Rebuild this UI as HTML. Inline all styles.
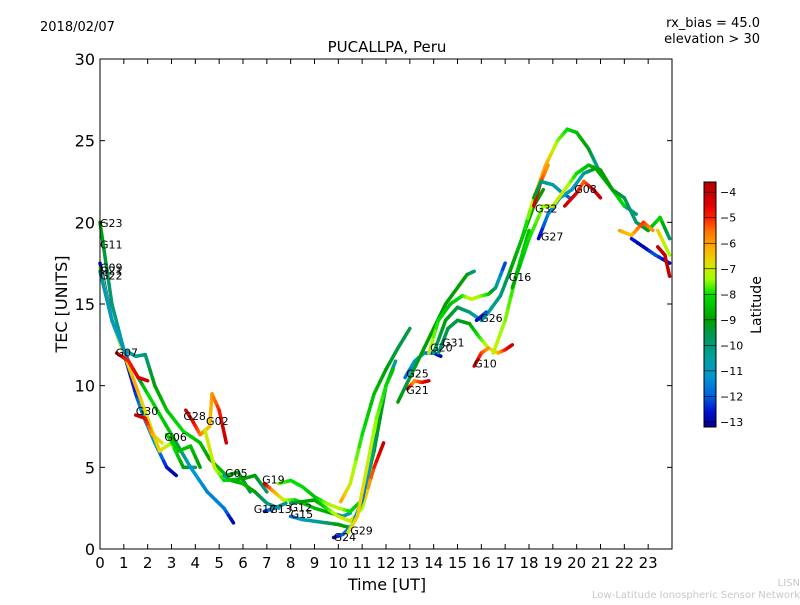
<!DOCTYPE html>
<html><head><meta charset="utf-8"><style>
body{margin:0;background:#fff;}
svg text{font-family:"DejaVu Sans","Liberation Sans",sans-serif;}
</style></head><body>
<svg id="chart" width="800" height="600" xmlns="http://www.w3.org/2000/svg">
<defs>
<linearGradient id="jet" x1="0" y1="1" x2="0" y2="0"></linearGradient>
</defs>
<text x="40" y="31" font-size="13">2018/02/07</text>
<text x="760" y="27" font-size="13" text-anchor="end">rx_bias = 45.0</text>
<text x="760" y="43" font-size="13" text-anchor="end">elevation &gt; 30</text>
<text x="387" y="52" font-size="15" text-anchor="middle">PUCALLPA, Peru</text>
<g id="plot"></g>
<g id="axes"></g>
<text x="387" y="590" font-size="16" text-anchor="middle">Time [UT]</text>
<text x="67" y="304" font-size="16" text-anchor="middle" transform="rotate(-90 67 304)">TEC [UNITS]</text>
<rect x="704" y="182" width="12" height="245" fill="url(#jet)" stroke="#000" stroke-width="1"/>
<g id="cbar"></g>
<text x="761" y="305" font-size="14" text-anchor="middle" transform="rotate(-90 761 305)">Latitude</text>
<text x="800" y="586" font-size="10" fill="#c8c8c8" text-anchor="end">LISN</text>
<text x="800" y="598" font-size="10" fill="#c8c8c8" text-anchor="end">Low-Latitude Ionospheric Sensor Network</text>
</svg>
<script>
const xTicks=[0,1,2,3,4,5,6,7,8,9,10,11,12,13,14,15,16,17,18,19,20,21,22,23];
const yTicks=[0,5,10,15,20,25,30];
const cTicks=[-4,-5,-6,-7,-8,-9,-10,-11,-12,-13];
const trackNames=["G23","G11","G09","G22","G07","G30","G28","G06","G05","G02b","G19","G19b","G12","G15","G24","G29","G13","G31a","G25","G21","G20","G31","G10a","G10b","G10","G26","G16","G32a","G32r","G32","G27","G08","G03","E1","E2","E3","E4"];
const tracks=[
[[0,20,-9],[0.5,15,-10],[1,12.2,-10.5],[1.5,11.8,-10.5],[1.9,11.9,-10],[2.3,10,-9],[2.8,8.5,-8.5],[3.5,7.2,-8],[4.2,6.5,-8.5],[4.6,5.5,-9],[5.3,4.5,-8.5],[5.8,4.7,-9],[6.3,3.5,-9.5]],
[[0,17.5,-12.5],[0.5,14,-12.8],[1,12,-12.5],[1.5,9.5,-12.5],[1.8,8.2,-11],[2.3,6.5,-11],[2.8,5,-12.5],[3.2,4.5,-13]],
[[0,17.2,-7],[0.5,14,-7.5],[1,12,-7],[1.5,10,-6],[2,8,-7],[2.5,6,-6.5],[3,6.5,-7.5],[3.5,5,-9],[4,5,-10]],
[[0,17,-10.5],[0.5,14,-11],[1.2,11.5,-11.5],[2,9.5,-8],[3,7,-8.5],[3.8,5,-11],[4.5,3.5,-11.5],[5.2,2.5,-11.5],[5.6,1.6,-13]],
[[0.7,12,-4],[1.2,11.5,-5],[1.6,10.5,-4.5],[2,10.3,-4]],
[[1.5,8.2,-4],[1.9,8,-4.5],[2.2,7,-6],[2.6,6.5,-7]],
[[3.6,8.5,-4],[3.9,7.8,-4.5],[4.2,7,-5.5],[4.6,7.5,-6.5],[4.7,9.5,-6],[5,8.5,-5],[5.3,6.5,-4]],
[[2.8,7,-8],[3.3,6,-8.5],[3.8,6.3,-8.5],[4.2,5,-9]],
[[5.2,4.5,-12],[5.5,4.2,-9],[6,4,-8.5],[6.5,3.5,-9],[7,2.8,-10],[7.5,2.5,-11]],
[[4.4,7.3,-7],[4.8,5,-7],[5.2,4.2,-8],[6,4.3,-9],[6.5,4.5,-9],[7,3.5,-10]],
[[6.9,4,-4],[7.3,3.5,-6],[7.7,3,-7],[8.2,3,-8],[9,2.5,-8.5],[9.7,2.2,-9],[10.2,2,-10],[10.5,2.2,-11]],
[[7.5,4,-7.5],[8,4.2,-8],[8.5,3.8,-8],[9,3.2,-8.5],[9.5,2.8,-7.5],[10,2.5,-7],[10.5,2.3,-8],[11,3,-8.5],[11.5,6,-9],[12,10,-9.5],[12.4,11.5,-10.5]],
[[8,2.8,-10],[8.5,2.9,-9],[9,3,-9],[9.5,2.5,-8],[10,2,-7],[10.5,1.7,-7],[11,2.5,-7.5],[11.5,5,-5],[11.9,6.5,-4]],
[[8,2,-12],[8.5,1.8,-11],[9,1.7,-10.5],[9.5,1.6,-10],[10,1.5,-9],[10.5,1.3,-9]],
[[9.8,0.7,-13],[10.2,0.9,-12],[10.6,1.5,-11],[11,3,-12],[11.3,5,-11],[11.6,7,-9.5]],
[[10.4,1,-7],[10.8,2,-6.5],[11.2,5,-7],[11.6,8,-7.5],[12,10,-8],[12.3,11,-8.5]],
[[6.9,2.3,-13],[7.3,2.5,-11],[7.8,2.8,-10]],
[[10.1,2.9,-6],[10.5,4,-7],[11,7,-8],[11.5,9.5,-8.5],[12,11,-9],[12.5,12.3,-9.5],[13,13.5,-9.5]],
[[12.8,10.5,-12],[13.2,11.5,-11],[13.6,12,-11],[14,12,-12.5],[14.3,11.8,-13]],
[[12.9,9.8,-4],[13.2,10.3,-6],[13.5,10.2,-5],[13.8,10.3,-4]],
[[12.5,9,-9],[13,10.5,-9.5],[13.5,12,-9],[14,13.5,-9],[14.5,15,-9],[15,16,-9],[15.4,16.8,-9],[15.7,17,-10]],
[[13.8,12,-7],[14.2,14,-8],[14.7,15,-8.5],[15.2,15.5,-8],[15.6,15.3,-7],[16,15.5,-7.5],[16.3,15.6,-8],[16.6,16,-10],[17,17.5,-12.5]],
[[14,12,-10],[14.5,14,-9],[15,14.8,-9.5],[15.5,14.5,-10],[16,14,-11],[16.3,14.5,-10.5],[16.8,15.5,-10],[17.2,17,-9.5],[17.7,19,-9],[18.2,21,-9],[18.6,22,-9]],
[[14.2,12,-10],[14.6,13.5,-9.5],[15,14,-9.5],[15.5,13.8,-9],[15.9,13,-8],[16.3,12.3,-7],[16.7,12,-6.5],[17,12.2,-5],[17.3,12.5,-4]],
[[15.7,11.2,-4],[16,12,-5],[16.3,12.3,-6]],
[[15.8,14,-13],[16.2,14.5,-12]],
[[16.5,12,-7],[17,14,-7.5],[17.5,17,-8],[18,19.5,-8.5]],
[[17.2,17,-9],[17.7,19,-8.5],[18.2,21.5,-7],[18.7,23.5,-6],[19.2,25,-7.5],[19.6,25.7,-8],[20,25.5,-8.5],[20.5,24.5,-9],[21,23,-11],[21.5,22,-11],[22,21,-10.5],[22.5,20.5,-10]],
[[18.2,21,-4],[18.5,22.5,-5],[18.8,23.5,-6]],
[[18.2,21.5,-9],[18.5,22.5,-10],[19,22.3,-10.5],[19.4,21.8,-11],[19.7,21.5,-12]],
[[18.4,19,-13],[18.8,20.5,-11.5],[19.3,21.5,-11],[19.8,22,-11],[20.3,23,-10.5],[20.8,23.3,-9],[21.5,22,-8.5],[22,21,-8]],
[[19.5,21,-4],[20,21.8,-4.5],[20.3,22.5,-5.5],[20.7,22,-4.5],[21,21.5,-4]],
[[17.3,16,-9],[18,19,-8],[18.6,21,-7.5],[19,21,-7],[19.5,22,-7],[20,23,-8],[20.5,23.5,-8.5],[21,23.2,-9],[21.5,22,-9],[22,21.5,-9.5],[22.5,20,-10],[23,19.5,-9],[23.5,20.3,-8],[23.9,19,-10]],
[[21.8,19.5,-6],[22.3,19.2,-6.5],[22.8,20,-5],[23.2,19.5,-6]],
[[22.3,19,-12.5],[22.8,18.5,-13],[23.3,18,-12],[23.9,17.5,-13]],
[[23.4,18.5,-4],[23.7,18,-4],[23.9,16.7,-4]],
[[23.4,19.5,-6.5],[23.9,18,-7.5]]
];
const labelNames=["G23","G11","G09","G21","G22","G07","G30","G28","G02","G06","G05","G19","G17","G13","G12","G15","G24","G29","G25","G21","G20","G31","G26","G10","G16","G32","G27","G08"];
const labelT=[0,0,0,0,0,0.65,1.5,3.5,4.45,2.7,5.25,6.8,6.45,7.1,7.95,8.0,9.8,10.5,12.85,12.85,13.85,14.35,15.95,15.7,17.15,18.25,18.5,19.9];
const labelTEC=[19.7,18.4,17.0,16.8,16.5,11.8,8.2,7.9,7.6,6.6,4.4,4.0,2.2,2.2,2.3,1.9,0.5,0.9,10.5,9.5,12.1,12.4,13.9,11.1,16.4,20.6,18.9,21.8];

const X0=100,X1=672,Y0=549,Y1=59;
const xs=t=>X0+t*(X1-X0)/24;
const ys=v=>Y0-v*(Y0-Y1)/30;
const CMIN=-13.2,CMAX=-3.6;
const cy=l=>427-(l-CMIN)/(CMAX-CMIN)*245;
const cmapLat=[-13.2,-12.6,-12.0,-11.2,-10.5,-9.7,-9.0,-8.0,-7.4,-6.8,-6.2,-5.5,-5.0,-4.5,-3.6];
const cmapRGB=[[0,0,144],[0,16,208],[0,96,224],[0,152,208],[0,160,160],[0,152,96],[0,160,0],[0,224,0],[160,255,0],[224,224,0],[255,176,0],[255,112,0],[255,32,0],[224,0,0],[176,0,0]];
function jet(l){
 if(l<=cmapLat[0])return `rgb(${cmapRGB[0].join(',')})`;
 for(let i=0;i<cmapLat.length-1;i++){if(l<=cmapLat[i+1]){const u=(l-cmapLat[i])/(cmapLat[i+1]-cmapLat[i]);
  const c=cmapRGB[i].map((v,k)=>Math.round(v+(cmapRGB[i+1][k]-v)*u));return `rgb(${c.join(',')})`;}}
 return `rgb(${cmapRGB[cmapRGB.length-1].join(',')})`;}
const NS="http://www.w3.org/2000/svg";
const grad=document.getElementById('jet');
cmapLat.forEach((l,i)=>{const s=document.createElementNS(NS,'stop');s.setAttribute('offset',(l-CMIN)/(CMAX-CMIN));s.setAttribute('stop-color',`rgb(${cmapRGB[i].join(',')})`);grad.appendChild(s);});
const plot=document.getElementById('plot');
tracks.forEach((tr,i)=>{
 const g=document.createElementNS(NS,'g');
 
 
 for(let k=0;k<tr.length-1;k++){
  const a=tr[k],b=tr[k+1];
  for(let s=0;s<4;s++){
   const u0=s/4,u1=(s+1)/4;
   const ln=document.createElementNS(NS,'line');
   ln.setAttribute('x1',xs(a[0]+(b[0]-a[0])*u0));ln.setAttribute('y1',ys(a[1]+(b[1]-a[1])*u0));
   ln.setAttribute('x2',xs(a[0]+(b[0]-a[0])*u1));ln.setAttribute('y2',ys(a[1]+(b[1]-a[1])*u1));
   ln.setAttribute('stroke',jet(a[2]+(b[2]-a[2])*(u0+u1)/2));
   ln.setAttribute('stroke-width','3.5');ln.setAttribute('stroke-linecap','round');
   g.appendChild(ln);
  }
 }
 plot.appendChild(g);
});
labelNames.forEach((n,i)=>{
 const t=document.createElementNS(NS,'text');
 
 
 t.setAttribute('x',xs(labelT[i]));t.setAttribute('y',ys(labelTEC[i]));
 t.setAttribute('font-size','11');t.textContent=n;plot.appendChild(t);
});
const axes=document.getElementById('axes');
function add(tag,attrs,txt){const e=document.createElementNS(NS,tag);for(const k in attrs)e.setAttribute(k,attrs[k]);if(txt!==undefined)e.textContent=txt;axes.appendChild(e);return e;}
const frame=add('rect',{x:X0,y:Y1,width:X1-X0,height:Y0-Y1,fill:'none',stroke:'#000','stroke-width':1});


xTicks.forEach(v=>{const x=xs(v);
 const t1=add('line',{x1:x,y1:Y0,x2:x,y2:Y0-5,stroke:'#000'});
 
 
 add('line',{x1:x,y1:Y1,x2:x,y2:Y1+5,stroke:'#000'});
 const lb=add('text',{x:x,y:Y0+19,'font-size':15,'text-anchor':'middle'},String(v));
 
 });
yTicks.forEach(v=>{const y=ys(v);
 const t1=add('line',{x1:X0,y1:y,x2:X0+5,y2:y,stroke:'#000'});
 
 
 add('line',{x1:X1,y1:y,x2:X1-5,y2:y,stroke:'#000'});
 const lb=add('text',{x:X0-5,y:y+6,'font-size':16,'text-anchor':'end'},String(v));
 
 });
const cb=document.getElementById('cbar');
cTicks.forEach(v=>{const y=cy(v);
 const l=document.createElementNS(NS,'line');
 l.setAttribute('x1',704);l.setAttribute('x2',716);l.setAttribute('y1',y);l.setAttribute('y2',y);
 l.setAttribute('stroke','#000');l.setAttribute('stroke-width','0.6');
 
 
 cb.appendChild(l);
 const t=document.createElementNS(NS,'text');
 t.setAttribute('x',720);t.setAttribute('y',y+4);t.setAttribute('font-size','11');
 t.textContent='\u2212'+Math.abs(v);
 
 
 cb.appendChild(t);});
</script>
</body></html>
